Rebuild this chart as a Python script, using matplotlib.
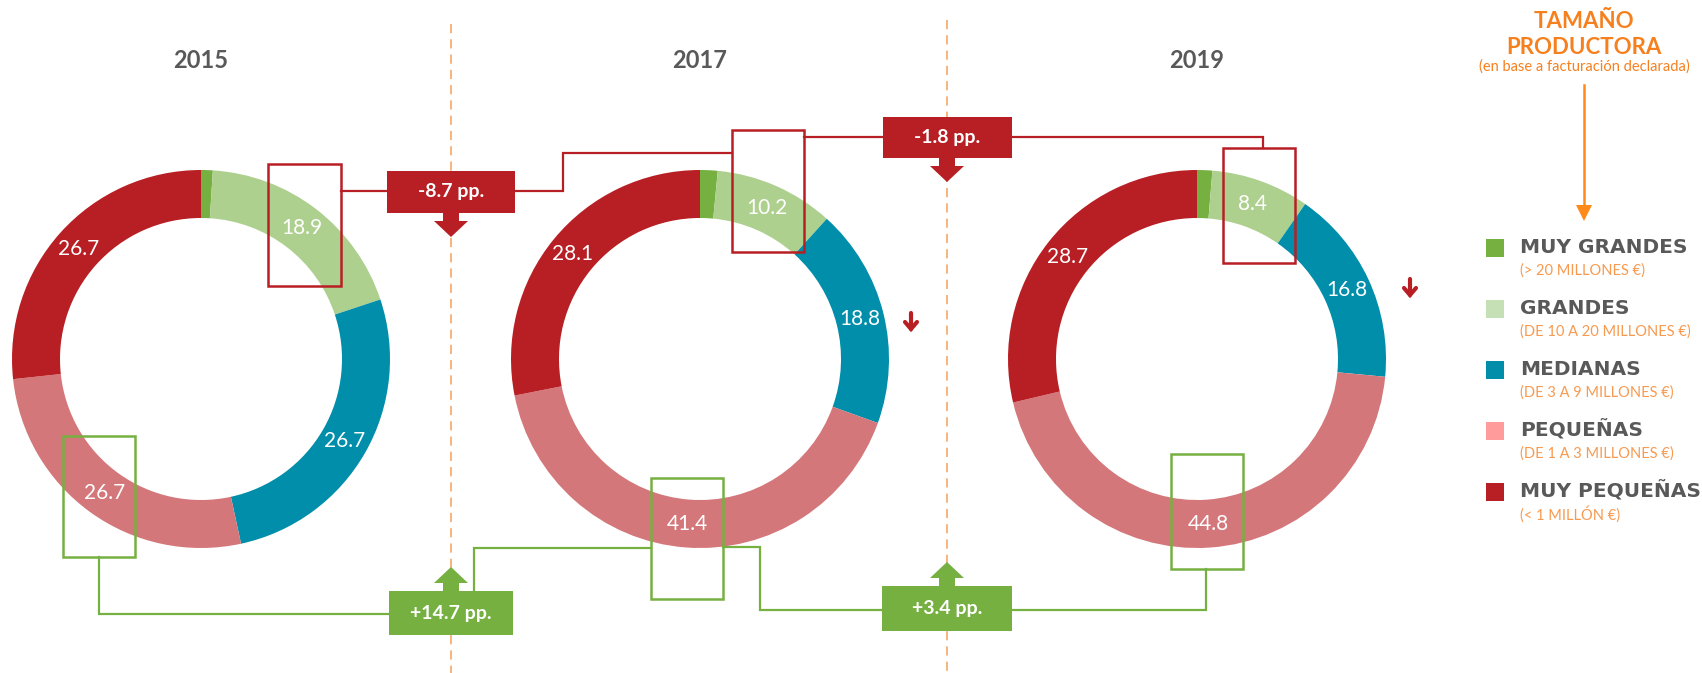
import matplotlib.pyplot as plt
from matplotlib.patches import Rectangle, Polygon
import numpy as np

# Data: share (%) of producers by size, per year
years = ['2015', '2017', '2019']
categories = ['MUY GRANDES', 'GRANDES', 'MEDIANAS', 'PEQUEÑAS', 'MUY PEQUEÑAS']
subtitles = ['(> 20 MILLONES €)', '(DE 10 A 20 MILLONES €)', '(DE 3 A 9 MILLONES €)',
             '(DE 1 A 3 MILLONES €)', '(< 1 MILLÓN €)']
muy_grandes = [1.0, 1.5, 1.3]
grandes = [18.9, 10.2, 8.4]
medianas = [26.7, 18.8, 16.8]
pequenas = [26.7, 41.4, 44.8]
muy_pequenas = [26.7, 28.1, 28.7]

ring_colors = ['#76B041', '#AED08E', '#008EAA', '#D4777B', '#B81F24']
legend_colors = ['#76B041', '#C5E0B4', '#008EAA', '#FF9B9B', '#B81F24']
RED = '#B81F24'
GREEN = '#76B041'
ORANGE = '#F7801E'
ORANGE_LIGHT = '#F79A50'
GREY = '#595959'

W, H = 1702, 673
plt.rcParams['font.family'] = ['Lato', 'DejaVu Sans']


def Y(p):
    """Convert pixel row (from top) to data y."""
    return H - p


fig = plt.figure(figsize=(W / 100, H / 100), dpi=100)
ax = fig.add_axes([0, 0, 1, 1])

# Donuts
centers_x = [201, 700, 1197]
center_y = 359
R_OUT, RING = 189, 48
for i, cx in enumerate(centers_x):
    vals = [muy_grandes[i], grandes[i], medianas[i], pequenas[i], muy_pequenas[i]]
    wedges, _ = ax.pie(vals, colors=ring_colors, radius=R_OUT, center=(cx, Y(center_y)),
                       startangle=90, counterclock=False,
                       wedgeprops=dict(width=RING, edgecolor='none'))
    for k, (w, v) in enumerate(zip(wedges, vals)):
        if k == 0:
            continue
        ang = np.deg2rad((w.theta1 + w.theta2) / 2)
        rr = R_OUT - RING / 2
        ax.text(cx + rr * np.cos(ang), Y(center_y) + rr * np.sin(ang), f'{v:.1f}',
                color='white', fontsize=15, ha='center', va='center')
    ax.text(cx, Y(61), years[i], color=GREY, fontsize=17, fontweight='bold',
            ha='center', va='center')

# Dashed separators
for x, top in [(451, 24), (947, 20)]:
    ax.plot([x, x], [Y(top), 0], color='#F5A05A', lw=1.1, ls=(0, (6, 4)))

# Highlight boxes (x0, y0, x1, y1 in pixels)
red_boxes = [(268, 164, 341, 286), (732, 130, 804, 252), (1223, 148, 1295, 263)]
green_boxes = [(63, 436, 135, 557), (651, 478, 723, 599), (1171, 454, 1243, 569)]
for boxes, col in [(red_boxes, RED), (green_boxes, GREEN)]:
    for x0, y0, x1, y1 in boxes:
        ax.add_patch(Rectangle((x0, Y(y1)), x1 - x0, y1 - y0, fill=False,
                               edgecolor=col, lw=1.8, zorder=5))

# Connectors
def path(pts, col):
    xs = [p[0] for p in pts]
    ys = [Y(p[1]) for p in pts]
    ax.plot(xs, ys, color=col, lw=1.6, solid_joinstyle='miter', zorder=4)


path([(341, 191), (390, 191)], RED)
path([(512, 191), (563, 191), (563, 153), (732, 153)], RED)
path([(804, 137), (886, 137)], RED)
path([(1010, 137), (1263, 137), (1263, 148)], RED)
path([(99, 557), (99, 614), (392, 614)], GREEN)
path([(474, 592), (474, 548), (651, 548)], GREEN)
path([(723, 547), (760, 547), (760, 610), (884, 610)], GREEN)
path([(1010, 610), (1206, 610), (1206, 569)], GREEN)

# Change boxes with block arrows
d_grandes = [grandes[1] - grandes[0], grandes[2] - grandes[1]]
d_pequenas = [pequenas[1] - pequenas[0], pequenas[2] - pequenas[1]]
changes = [
    (d_grandes[0], RED, (387, 171, 515, 213), 451, 'down'),
    (d_grandes[1], RED, (883, 117, 1012, 158), 947, 'down'),
    (d_pequenas[0], GREEN, (389, 591, 513, 635), 451, 'up'),
    (d_pequenas[1], GREEN, (882, 586, 1012, 631), 947, 'up'),
]
for d, col, (x0, y0, x1, y1), ax_x, direction in changes:
    ax.add_patch(Rectangle((x0, Y(y1)), x1 - x0, y1 - y0, facecolor=col,
                           edgecolor='none', zorder=6))
    ax.text((x0 + x1) / 2, Y((y0 + y1) / 2), f'{d:+.1f} pp.', color='white',
            fontsize=14, fontweight='bold', ha='center', va='center', zorder=7)
    if direction == 'down':
        b = y1
        pts = [(ax_x - 8, b), (ax_x + 8, b), (ax_x + 8, b + 8), (ax_x + 17, b + 8),
               (ax_x, b + 24), (ax_x - 17, b + 8), (ax_x - 8, b + 8)]
    else:
        t = y0
        pts = [(ax_x - 8, t), (ax_x + 8, t), (ax_x + 8, t - 8), (ax_x + 17, t - 8),
               (ax_x, t - 24), (ax_x - 17, t - 8), (ax_x - 8, t - 8)]
    ax.add_patch(Polygon([(p[0], Y(p[1])) for p in pts], closed=True,
                         facecolor=col, edgecolor='none', zorder=6))

# Small down arrows beside the medianas segment
for x, yc in [(911, 321), (1410, 287)]:
    ax.plot([x, x], [Y(yc - 8), Y(yc + 8)], color=RED, lw=3, solid_capstyle='round')
    ax.plot([x - 6, x, x + 6], [Y(yc + 1), Y(yc + 8), Y(yc + 1)], color=RED, lw=3,
            solid_capstyle='round', solid_joinstyle='miter')

# Legend block
lx = 1584
ax.text(lx, Y(21), 'TAMAÑO', color=ORANGE, fontsize=16, fontweight='bold',
        ha='center', va='center')
ax.text(lx, Y(47), 'PRODUCTORA', color=ORANGE, fontsize=16, fontweight='bold',
        ha='center', va='center')
ax.text(lx, Y(67), '(en base a facturación declarada)', color=ORANGE, fontsize=10.5,
        ha='center', va='center')
ax.plot([lx, lx], [Y(85), Y(206)], color='#FF8A1A', lw=1.8)
ax.add_patch(Polygon([(lx - 8, Y(205)), (lx + 8, Y(205)), (lx, Y(221))], closed=True,
                     facecolor='#FF8A1A', edgecolor='none'))

for k, (name, sub, col) in enumerate(zip(categories, subtitles, legend_colors)):
    yc = 247.5 + k * 61
    ax.add_patch(Rectangle((1486, Y(yc + 9)), 18, 18, facecolor=col, edgecolor='none'))
    ax.text(1520, Y(yc), name, color=GREY, fontsize=14.5, fontweight='bold',
            family='DejaVu Sans', ha='left', va='center')
    ax.text(1520, Y(yc + 23), sub, color=ORANGE_LIGHT, fontsize=10.5,
            ha='left', va='center')

ax.set_xlim(0, W)
ax.set_ylim(0, H)
ax.set_aspect('auto')
ax.axis('off')
fig.savefig('out.png', dpi=100, facecolor='white')
